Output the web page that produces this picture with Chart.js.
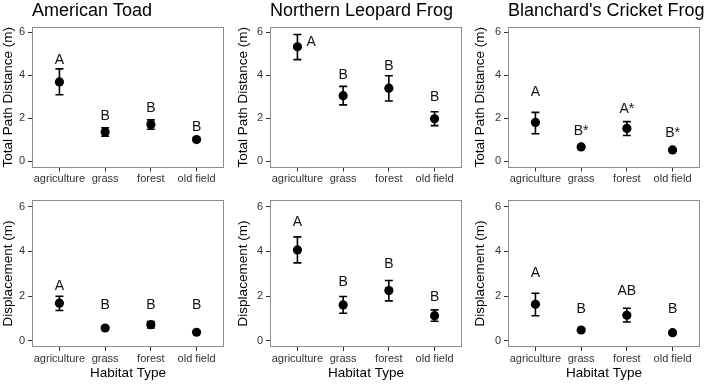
<!DOCTYPE html>
<html>
<head>
<meta charset="utf-8">
<script src="https://cdn.jsdelivr.net/npm/chart.js@4.4.0/dist/chart.umd.min.js"></script>
<style>
  html, body { margin: 0; padding: 0; background: #fff; }
  #wrap { position: relative; width: 709px; height: 384px; overflow: hidden; }
  #wrap canvas { position: absolute; }
</style>
</head>
<body>
<div id="wrap"></div>
<script>
const habitats = ['agriculture', 'grass', 'forest', 'old field'];
const yTicks = [0, 2, 4, 6];
const species = ['American Toad', 'Northern Leopard Frog', "Blanchard's Cricket Frog"];
const rowTitles = ['Total Path Distance (m)', 'Displacement (m)'];
const xTitle = 'Habitat Type';

// total path distance (m): mean, error bar low / high, letters and letter height
const toadPath = [3.69, 1.35, 1.70, 1.00];
const toadPathLow = [3.09, 1.16, 1.48, 0.95];
const toadPathHigh = [4.30, 1.55, 1.92, 1.05];
const toadPathSig = ['A', 'B', 'B', 'B'];
const toadPathSigY = [4.78, 2.16, 2.50, 1.62];

const leopardPath = [5.33, 3.05, 3.40, 1.97];
const leopardPathLow = [4.73, 2.62, 2.80, 1.65];
const leopardPathHigh = [5.90, 3.48, 3.98, 2.30];
const leopardPathSig = ['A', 'B', 'B', 'B'];
const leopardPathSigY = [5.61, 4.06, 4.47, 3.02];
const leopardPathSigX = [1.3, 2, 3, 4];

const cricketPath = [1.80, 0.66, 1.52, 0.52];
const cricketPathLow = [1.27, 0.60, 1.19, 0.47];
const cricketPathHigh = [2.27, 0.72, 1.84, 0.57];
const cricketPathSig = ['A', 'B*', 'A*', 'B*'];
const cricketPathSigY = [3.25, 1.47, 2.48, 1.34];

// displacement (m)
const toadDisp = [1.69, 0.58, 0.73, 0.39];
const toadDispLow = [1.36, 0.52, 0.58, 0.35];
const toadDispHigh = [2.00, 0.64, 0.87, 0.43];
const toadDispSig = ['A', 'B', 'B', 'B'];
const toadDispSigY = [2.50, 1.64, 1.64, 1.64];

const leopardDisp = [4.07, 1.61, 2.25, 1.13];
const leopardDispLow = [3.49, 1.24, 1.79, 0.88];
const leopardDispHigh = [4.65, 1.99, 2.70, 1.39];
const leopardDispSig = ['A', 'B', 'B', 'B'];
const leopardDispSigY = [5.37, 2.66, 3.50, 1.99];

const cricketDisp = [1.64, 0.49, 1.15, 0.37];
const cricketDispLow = [1.13, 0.44, 0.85, 0.33];
const cricketDispHigh = [2.13, 0.54, 1.46, 0.41];
const cricketDispSig = ['A', 'B', 'AB', 'B'];
const cricketDispSigY = [3.06, 1.49, 2.29, 1.49];

const catX = habitats.map((h, i) => i + 1);

const panels = [
  { row: 0, col: 0, mean: toadPath, low: toadPathLow, high: toadPathHigh, sig: toadPathSig, sigY: toadPathSigY },
  { row: 0, col: 1, mean: leopardPath, low: leopardPathLow, high: leopardPathHigh, sig: leopardPathSig, sigY: leopardPathSigY, sigX: leopardPathSigX },
  { row: 0, col: 2, mean: cricketPath, low: cricketPathLow, high: cricketPathHigh, sig: cricketPathSig, sigY: cricketPathSigY },
  { row: 1, col: 0, mean: toadDisp, low: toadDispLow, high: toadDispHigh, sig: toadDispSig, sigY: toadDispSigY },
  { row: 1, col: 1, mean: leopardDisp, low: leopardDispLow, high: leopardDispHigh, sig: leopardDispSig, sigY: leopardDispSigY },
  { row: 1, col: 2, mean: cricketDisp, low: cricketDispLow, high: cricketDispHigh, sig: cricketDispSig, sigY: cricketDispSigY },
];

// layout
const FONT = '"Liberation Sans", Arial, sans-serif';
const colLeft = [0, 235, 472];
const colWidth = [234, 237, 237];
const axisW = [32, 35, 36];
const plotW = 192;
const rowTop = [0, 190];
const rowHeight = [188, 194];
const rowPadTop = [27, 10];
const rowXAxisH = [20.5, 37];
const yRange = [[-0.3, 6.25], [-0.27, 6.3]];

const errorBars = {
  id: 'errorBars',
  beforeDatasetsDraw(chart, args, opts) {
    const { ctx, scales: { x, y } } = chart;
    const p = opts.panel;
    ctx.save();
    ctx.strokeStyle = '#000';
    ctx.lineWidth = 1.6;
    p.mean.forEach((m, i) => {
      const px = x.getPixelForValue(catX[i]);
      const yl = y.getPixelForValue(p.low[i]);
      const yh = y.getPixelForValue(p.high[i]);
      ctx.beginPath();
      ctx.moveTo(px, yl); ctx.lineTo(px, yh);
      ctx.moveTo(px - 4, yl); ctx.lineTo(px + 4, yl);
      ctx.moveTo(px - 4, yh); ctx.lineTo(px + 4, yh);
      ctx.stroke();
    });
    ctx.restore();
  },
  afterDatasetsDraw(chart, args, opts) {
    const { ctx, scales: { x, y } } = chart;
    const p = opts.panel;
    ctx.save();
    ctx.fillStyle = '#111';
    ctx.font = '14px ' + FONT;
    ctx.textAlign = 'center';
    ctx.textBaseline = 'alphabetic';
    p.sig.forEach((s, i) => {
      const sx = p.sigX ? p.sigX[i] : catX[i];
      ctx.fillText(s, x.getPixelForValue(sx), y.getPixelForValue(p.sigY[i]) + 5);
    });
    ctx.restore();
  },
  afterDraw(chart, args, opts) {
    const { ctx, chartArea: a } = chart;
    const p = opts.panel;
    ctx.save();
    ctx.strokeStyle = '#8c8c8c';
    ctx.lineWidth = 1;
    ctx.strokeRect(Math.round(a.left) + 0.5, Math.round(a.top) + 0.5,
      Math.round(a.right - a.left) - 1, Math.round(a.bottom - a.top) - 1);
    if (p.row === 0) {
      ctx.fillStyle = '#000';
      ctx.font = '18px ' + FONT;
      ctx.textAlign = 'left';
      ctx.textBaseline = 'alphabetic';
      ctx.fillText(species[p.col], a.left, 15.5);
    }
    ctx.restore();
  }
};

const wrap = document.getElementById('wrap');

panels.forEach(p => {
  const c = document.createElement('canvas');
  c.width = colWidth[p.col];
  c.height = rowHeight[p.row];
  c.style.left = colLeft[p.col] + 'px';
  c.style.top = rowTop[p.row] + 'px';
  wrap.appendChild(c);

  new Chart(c, {
    type: 'scatter',
    data: {
      datasets: [{
        data: p.mean.map((m, i) => ({ x: catX[i], y: m })),
        pointRadius: 4.6,
        pointBackgroundColor: '#000',
        pointBorderWidth: 0,
        showLine: false
      }]
    },
    options: {
      responsive: false,
      animation: false,
      devicePixelRatio: 1,
      layout: {
        padding: { top: rowPadTop[p.row], left: 0, bottom: 0, right: colWidth[p.col] - axisW[p.col] - plotW }
      },
      plugins: {
        legend: { display: false },
        tooltip: { enabled: false },
        errorBars: { panel: p }
      },
      scales: {
        x: {
          type: 'linear',
          min: 0.4,
          max: 4.6,
          afterBuildTicks: s => { s.ticks = catX.map(v => ({ value: v })); },
          afterFit: s => { s.height = rowXAxisH[p.row]; },
          ticks: {
            callback: v => habitats[v - 1],
            color: '#333',
            font: { family: FONT, size: 11 },
            padding: 1,
            maxRotation: 0,
            autoSkip: false
          },
          grid: { drawOnChartArea: false, drawTicks: true, tickLength: 4, color: '#333' },
          border: { display: false },
          title: {
            display: p.row === 1,
            text: xTitle,
            color: '#000',
            font: { family: FONT, size: 13.5 },
            padding: { top: 0, bottom: 3 }
          }
        },
        y: {
          min: yRange[p.row][0],
          max: yRange[p.row][1],
          afterBuildTicks: s => { s.ticks = yTicks.map(v => ({ value: v })); },
          afterFit: s => { s.width = axisW[p.col]; },
          ticks: {
            color: '#333',
            font: { family: FONT, size: 11 },
            padding: 3
          },
          grid: { drawOnChartArea: false, drawTicks: true, tickLength: 4, color: '#333' },
          border: { display: false },
          title: {
            display: true,
            text: rowTitles[p.row],
            color: '#000',
            font: { family: FONT, size: 13.5 },
            padding: { top: 0, bottom: 0 }
          }
        }
      }
    },
    plugins: [errorBars]
  });
});
</script>
</body>
</html>
